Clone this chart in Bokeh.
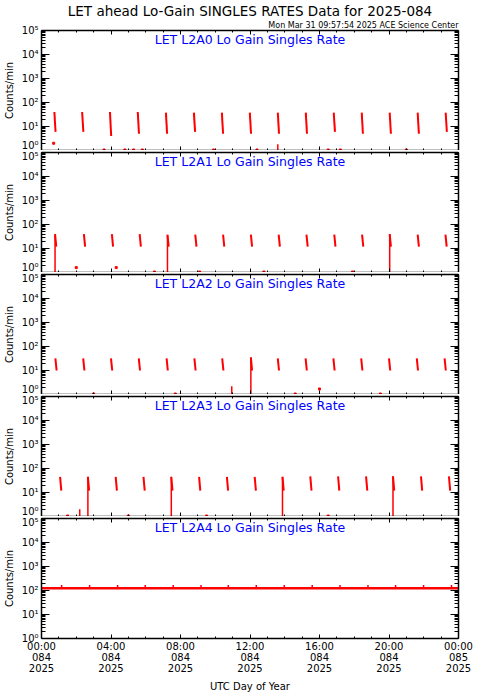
from bokeh.plotting import figure
from bokeh.models import Range1d, LogAxis, LinearAxis, FixedTicker, Label, Title, CustomJSTickFormatter
from bokeh.layouts import column
from bokeh.embed import file_html
from bokeh.resources import INLINE

FONT = "DejaVu Sans"

main_title = "LET ahead Lo-Gain SINGLES RATES Data for 2025-084"
sub_title = "Mon Mar 31 09:57:54 2025 ACE Science Center"
panel_titles = ["LET L2A0 Lo Gain Singles Rate", "LET L2A1 Lo Gain Singles Rate",
                "LET L2A2 Lo Gain Singles Rate", "LET L2A3 Lo Gain Singles Rate",
                "LET L2A4 Lo Gain Singles Rate"]
y_label = "Counts/min"
x_label = "UTC Day of Year"

x_major = [0, 4, 8, 12, 16, 20, 24]
x_minor = [1, 2, 3, 5, 6, 7, 9, 10, 11, 13, 14, 15, 17, 18, 19, 21, 22, 23]
x_tick_labels = ["00:00\n084\n2025", "04:00\n084\n2025", "08:00\n084\n2025", "12:00\n084\n2025",
                 "16:00\n084\n2025", "20:00\n084\n2025", "00:00\n085\n2025"]
y_major = [1, 10, 100, 1000, 10000, 100000]
y_minor = [m * d for d in [1, 10, 100, 1000, 10000] for m in range(2, 10)]
y_tick_labels = ["10⁰", "10¹", "10²", "10³", "10⁴", "10⁵"]

# spikes: start time (h), top value, end value (counts/min)
l2a0_t = [0.74, 2.34, 3.94, 5.54, 7.16, 8.77, 10.38, 11.99, 13.6, 15.21, 16.82, 18.43, 20.04, 21.65, 23.26]
l2a0_top = [40, 40, 40, 40, 38, 38, 38, 38, 38, 38, 38, 38, 38, 38, 38]
l2a0_bot = [6, 6, 4, 5, 5, 6, 5, 5, 5, 5, 6, 5, 5, 5, 6]
l2a0_drop_t = [13.6]
l2a0_drop_top = [1.8]
l2a0_dot_t = [0.7, 3.6, 4.8, 5.3, 5.8, 9.9, 12.4, 16.5, 17.2, 21.0]
l2a0_dot_v = [2.0, 1.05, 1.05, 1.05, 1.05, 1.05, 1.05, 1.05, 1.05, 1.05]

l2a1_t = [0.78, 2.44, 4.05, 5.65, 7.25, 8.85, 10.45, 12.05, 13.65, 15.25, 16.85, 18.45, 20.04, 21.65, 23.25]
l2a1_top = [40, 40, 40, 40, 38, 38, 38, 38, 38, 38, 38, 38, 40, 38, 38]
l2a1_bot = [12, 12, 12, 12, 12, 12, 12, 12, 12, 12, 12, 12, 12, 12, 12]
l2a1_drop_t = [0.78, 7.25, 20.04]
l2a1_drop_top = [38, 35, 40]
l2a1_dot_t = [2.0, 4.3, 6.5, 9.1, 12.8, 17.9]
l2a1_dot_v = [1.6, 1.6, 1.05, 1.05, 1.05, 1.05]

l2a2_t = [0.8, 2.4, 4.0, 5.6, 7.2, 8.8, 10.4, 12.05, 13.6, 15.2, 16.8, 18.4, 20.0, 21.6, 23.2]
l2a2_top = [32, 32, 32, 32, 32, 32, 32, 35, 32, 32, 32, 32, 32, 32, 32]
l2a2_bot = [10, 10, 10, 10, 10, 10, 10, 10, 10, 10, 10, 10, 10, 10, 10]
l2a2_drop_t = [10.95, 12.05]
l2a2_drop_top = [2.2, 35]
l2a2_dot_t = [3.0, 7.7, 14.6, 16.0, 19.5]
l2a2_dot_v = [1.05, 1.05, 1.05, 1.7, 1.05]

l2a3_t = [1.07, 2.67, 4.27, 5.87, 7.47, 9.07, 10.67, 12.27, 13.87, 15.47, 17.07, 18.68, 20.23, 21.84, 23.45]
l2a3_top = [45, 45, 45, 45, 45, 45, 45, 45, 45, 47, 47, 47, 47, 47, 47]
l2a3_bot = [12, 12, 12, 12, 12, 12, 12, 12, 12, 12, 12, 12, 12, 12, 12]
l2a3_drop_t = [2.2, 2.67, 7.47, 13.87, 20.23]
l2a3_drop_top = [2.0, 45, 45, 45, 47]
l2a3_dot_t = [1.5, 5.0, 9.5, 16.5]
l2a3_dot_v = [1.05, 1.05, 1.05, 1.05]

l2a4_t = [1.16, 2.77, 4.38, 5.97, 7.58, 9.18, 10.75, 12.36, 13.97, 15.58, 17.18, 18.79, 20.38, 21.99, 23.6]
l2a4_top = [170, 170, 170, 170, 170, 170, 170, 170, 170, 170, 170, 170, 170, 170, 170]
l2a4_base_t = [0.0, 24.0]
l2a4_base_v = [125, 125]

spike_t = [l2a0_t, l2a1_t, l2a2_t, l2a3_t, []]
spike_top = [l2a0_top, l2a1_top, l2a2_top, l2a3_top, []]
spike_bot = [l2a0_bot, l2a1_bot, l2a2_bot, l2a3_bot, []]
drop_t = [l2a0_drop_t, l2a1_drop_t, l2a2_drop_t, l2a3_drop_t, []]
drop_top = [l2a0_drop_top, l2a1_drop_top, l2a2_drop_top, l2a3_drop_top, []]
dot_t = [l2a0_dot_t, l2a1_dot_t, l2a2_dot_t, l2a3_dot_t, []]
dot_v = [l2a0_dot_v, l2a1_dot_v, l2a2_dot_v, l2a3_dot_v, []]

RED = "#ff0000"
BLANK = CustomJSTickFormatter(code="return ''")


def style_axis(ax, show_labels):
    ax.axis_line_color = "black"
    ax.axis_line_width = 1.5
    ax.major_tick_line_color = "black"
    ax.minor_tick_line_color = "black"
    ax.major_tick_out = 0
    ax.minor_tick_out = 0
    ax.major_label_text_font = FONT
    ax.major_label_text_font_size = "10px"
    ax.major_label_text_color = "black"
    ax.axis_label_text_font = FONT
    ax.axis_label_text_font_size = "10px"
    ax.axis_label_text_font_style = "normal"
    ax.axis_label_text_color = "black"
    if not show_labels:
        ax.formatter = BLANK
        ax.major_label_text_font_size = "1px"
        ax.major_label_standoff = 0


figs = []
n = 5
for i in range(n):
    first = i == 0
    last = i == n - 1
    p = figure(frame_width=417, frame_height=120, y_axis_type="log",
               x_range=Range1d(0, 24), y_range=Range1d(1, 1e5),
               x_axis_location=None, y_axis_location=None,
               output_backend="svg", toolbar_location=None,
               min_border_left=32, min_border_right=16,
               min_border_top=0, min_border_bottom=0,
               background_fill_color="white", border_fill_color="white",
               outline_line_color=None)
    p.xgrid.visible = False
    p.ygrid.visible = False

    yt = FixedTicker(ticks=y_major, minor_ticks=y_minor)
    xt = FixedTicker(ticks=x_major, minor_ticks=x_minor)

    left = LogAxis(ticker=yt, axis_label=y_label)
    style_axis(left, True)
    left.major_label_overrides = {v: s for v, s in zip(y_major, y_tick_labels)}
    left.major_tick_in = 8
    left.minor_tick_in = 4
    left.major_label_standoff = 3
    left.axis_label_standoff = 4
    p.add_layout(left, "left")

    right = LogAxis(ticker=yt)
    style_axis(right, False)
    right.major_tick_in = 8
    right.minor_tick_in = 4
    p.add_layout(right, "right")

    top = LinearAxis(ticker=xt)
    style_axis(top, False)
    top.major_tick_in = 4
    top.minor_tick_in = 2
    p.add_layout(top, "above")

    if last:
        bottom = LinearAxis(ticker=xt, axis_label=x_label)
        style_axis(bottom, True)
        bottom.major_label_overrides = {v: s for v, s in zip(x_major, x_tick_labels)}
        bottom.major_label_text_line_height = 1.0
        bottom.major_label_standoff = 2
        bottom.axis_label_standoff = 4
    else:
        bottom = LinearAxis(ticker=xt)
        style_axis(bottom, False)
    bottom.major_tick_in = 4
    bottom.minor_tick_in = 2
    p.add_layout(bottom, "below")

    if first:
        p.add_layout(Title(text=sub_title, align="right", text_font=FONT,
                           text_font_size="8px", text_font_style="normal",
                           text_color="black", standoff=1), "above")
        p.add_layout(Title(text=main_title, align="center", text_font=FONT,
                           text_font_size="13.5px", text_font_style="normal",
                           text_color="black", standoff=0), "above")
    else:
        p.min_border_top = 2

    if i < 4:
        bx = [t + 0.07 for t in spike_t[i]]
        p.segment(x0=spike_t[i], y0=spike_top[i], x1=bx, y1=spike_bot[i],
                  line_color=RED, line_width=2)
        p.segment(x0=drop_t[i], y0=drop_top[i], x1=drop_t[i], y1=[1.0] * len(drop_t[i]),
                  line_color=RED, line_width=1.5)
        p.scatter(x=dot_t[i], y=dot_v[i], size=2, color=RED, marker="square")
    else:
        p.line(x=l2a4_base_t, y=l2a4_base_v, line_color=RED, line_width=2.5)
        p.segment(x0=l2a4_t, y0=l2a4_top, x1=l2a4_t, y1=[l2a4_base_v[0]] * len(l2a4_t),
                  line_color=RED, line_width=1.5)

    p.add_layout(Label(x=12, y=1e5, y_offset=-1, text=panel_titles[i],
                       text_align="center", text_baseline="top",
                       text_font=FONT, text_font_size="12.5px", text_color="#0000ff"))
    figs.append(p)

layout = column(*figs, spacing=0)
open("out.html", "w").write(file_html(layout, INLINE))
